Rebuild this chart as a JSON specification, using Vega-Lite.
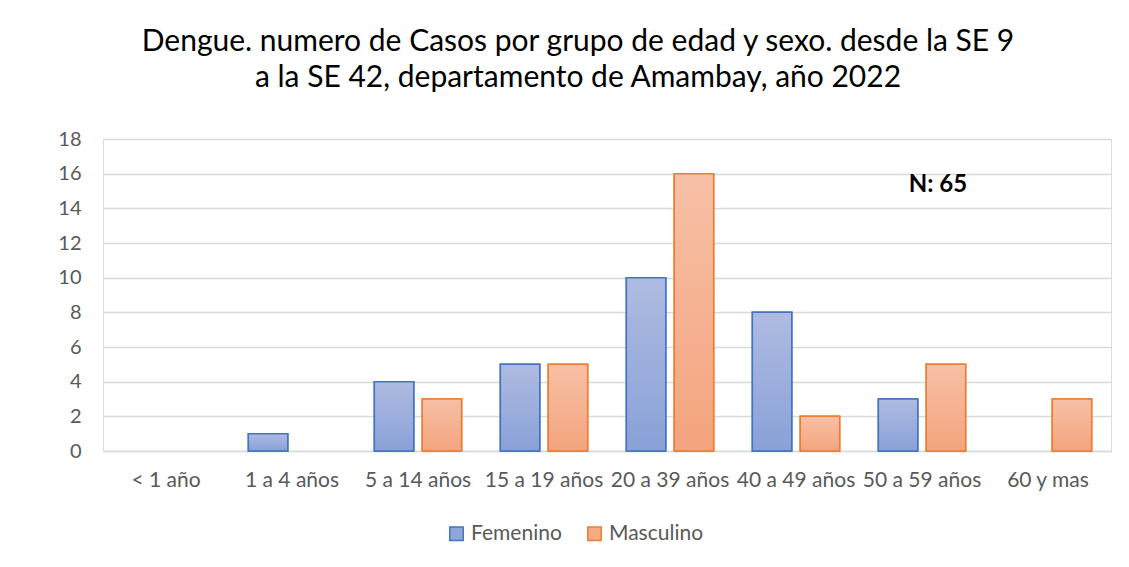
{
  "$schema": "https://vega.github.io/schema/vega-lite/v6.json",
  "width": 1008,
  "height": 312,
  "autosize": {"type": "none"},
  "padding": {"left": 103, "top": 139, "right": 18, "bottom": 116},
  "background": "white",
  "title": {
    "text": ["Dengue. numero de Casos por grupo de edad y sexo. desde la SE 9", "a la SE 42, departamento de Amambay, año 2022"],
    "anchor": "middle",
    "frame": "group",
    "dx": -29,
    "offset": 36,
    "font": "Lato",
    "fontSize": 30,
    "fontWeight": "normal",
    "color": "#000000",
    "lineHeight": 36
  },
  "data": {
    "values": [
      {"grupo": "< 1 año", "sexo": "Femenino", "casos": 0},
      {"grupo": "< 1 año", "sexo": "Masculino", "casos": 0},
      {"grupo": "1 a 4 años", "sexo": "Femenino", "casos": 1},
      {"grupo": "1 a 4 años", "sexo": "Masculino", "casos": 0},
      {"grupo": "5 a 14 años", "sexo": "Femenino", "casos": 4},
      {"grupo": "5 a 14 años", "sexo": "Masculino", "casos": 3},
      {"grupo": "15 a 19 años", "sexo": "Femenino", "casos": 5},
      {"grupo": "15 a 19 años", "sexo": "Masculino", "casos": 5},
      {"grupo": "20 a 39 años", "sexo": "Femenino", "casos": 10},
      {"grupo": "20 a 39 años", "sexo": "Masculino", "casos": 16},
      {"grupo": "40 a 49 años", "sexo": "Femenino", "casos": 8},
      {"grupo": "40 a 49 años", "sexo": "Masculino", "casos": 2},
      {"grupo": "50 a 59 años", "sexo": "Femenino", "casos": 3},
      {"grupo": "50 a 59 años", "sexo": "Masculino", "casos": 5},
      {"grupo": "60 y mas", "sexo": "Femenino", "casos": 0},
      {"grupo": "60 y mas", "sexo": "Masculino", "casos": 3}
    ]
  },
  "encoding": {
    "x": {
      "field": "grupo",
      "type": "nominal",
      "sort": null,
      "scale": {"domain": ["< 1 año", "1 a 4 años", "5 a 14 años", "15 a 19 años", "20 a 39 años", "40 a 49 años", "50 a 59 años", "60 y mas"], "paddingInner": 0.307, "paddingOuter": 0.1535},
      "axis": {
        "title": null,
        "labelAngle": 0,
        "labelFont": "Lato",
        "labelFontSize": 21,
        "labelColor": "#595959",
        "labelPadding": 18,
        "labelOverlap": false,
        "ticks": false,
        "domain": true,
        "domainColor": "#D9D9D9",
        "domainWidth": 1.5,
        "grid": false
      }
    },
    "y": {
      "field": "casos",
      "type": "quantitative",
      "scale": {"domain": [0, 18], "nice": false},
      "axis": {
        "title": null,
        "values": [0, 2, 4, 6, 8, 10, 12, 14, 16, 18],
        "labelFont": "Lato",
        "labelFontSize": 20,
        "labelColor": "#595959",
        "labelPadding": 22,
        "ticks": false,
        "domain": false,
        "grid": true,
        "gridColor": "#D9D9D9",
        "gridWidth": 1.5
      }
    },
    "xOffset": {
      "field": "sexo",
      "type": "nominal",
      "scale": {"domain": ["Femenino", "Masculino"], "paddingInner": 0.177, "paddingOuter": 0}
    }
  },
  "layer": [
    {
      "transform": [{"filter": "datum.casos > 0"}],
      "mark": {"type": "bar", "strokeWidth": 1.5},
      "encoding": {
        "fill": {
          "field": "sexo",
          "type": "nominal",
          "scale": {"domain": ["Femenino", "Masculino"], "range": ["#8FA6DB", "#F5AA86"]},
          "legend": {
            "title": null,
            "orient": "none",
            "direction": "horizontal",
            "legendX": 343,
            "legendY": 384,
            "symbolType": "square",
            "symbolSize": 180,
            "symbolStrokeWidth": 1.5,
            "labelFont": "Lato",
            "labelFontSize": 21,
            "labelColor": "#595959",
            "labelOffset": 4,
            "columnPadding": 22
          }
        },
        "stroke": {
          "field": "sexo",
          "type": "nominal",
          "scale": {"domain": ["Femenino", "Masculino"], "range": ["#4472C4", "#ED7D31"]},
          "legend": {
            "title": null,
            "orient": "none",
            "direction": "horizontal",
            "legendX": 343,
            "legendY": 384,
            "symbolType": "square",
            "symbolSize": 180,
            "symbolStrokeWidth": 1.5,
            "labelFont": "Lato",
            "labelFontSize": 21,
            "labelColor": "#595959",
            "labelOffset": 4,
            "columnPadding": 22
          }
        }
      }
    },
    {
      "transform": [{"filter": "datum.casos > 0 && datum.sexo === 'Femenino'"}],
      "mark": {
        "type": "bar",
        "stroke": "#4472C4",
        "strokeWidth": 1.5,
        "fill": {"gradient": "linear", "x1": 0, "y1": 0, "x2": 0, "y2": 1, "stops": [{"offset": 0, "color": "#AFBBE1"}, {"offset": 1, "color": "#89A1D8"}]}
      }
    },
    {
      "transform": [{"filter": "datum.casos > 0 && datum.sexo === 'Masculino'"}],
      "mark": {
        "type": "bar",
        "stroke": "#ED7D31",
        "strokeWidth": 1.5,
        "fill": {"gradient": "linear", "x1": 0, "y1": 0, "x2": 0, "y2": 1, "stops": [{"offset": 0, "color": "#F7C0A6"}, {"offset": 1, "color": "#F4A47E"}]}
      }
    },
    {
      "data": {"values": [{"grupo": "50 a 59 años", "casos": 15.35, "etiqueta": "N: 65"}]},
      "mark": {"type": "text", "font": "Lato", "fontSize": 24, "fontWeight": "bold", "color": "#000000", "dx": 16, "align": "center", "baseline": "middle"},
      "encoding": {
        "x": {"field": "grupo", "type": "nominal"},
        "y": {"field": "casos", "type": "quantitative"},
        "xOffset": null,
        "text": {"field": "etiqueta"}
      }
    }
  ]
}
